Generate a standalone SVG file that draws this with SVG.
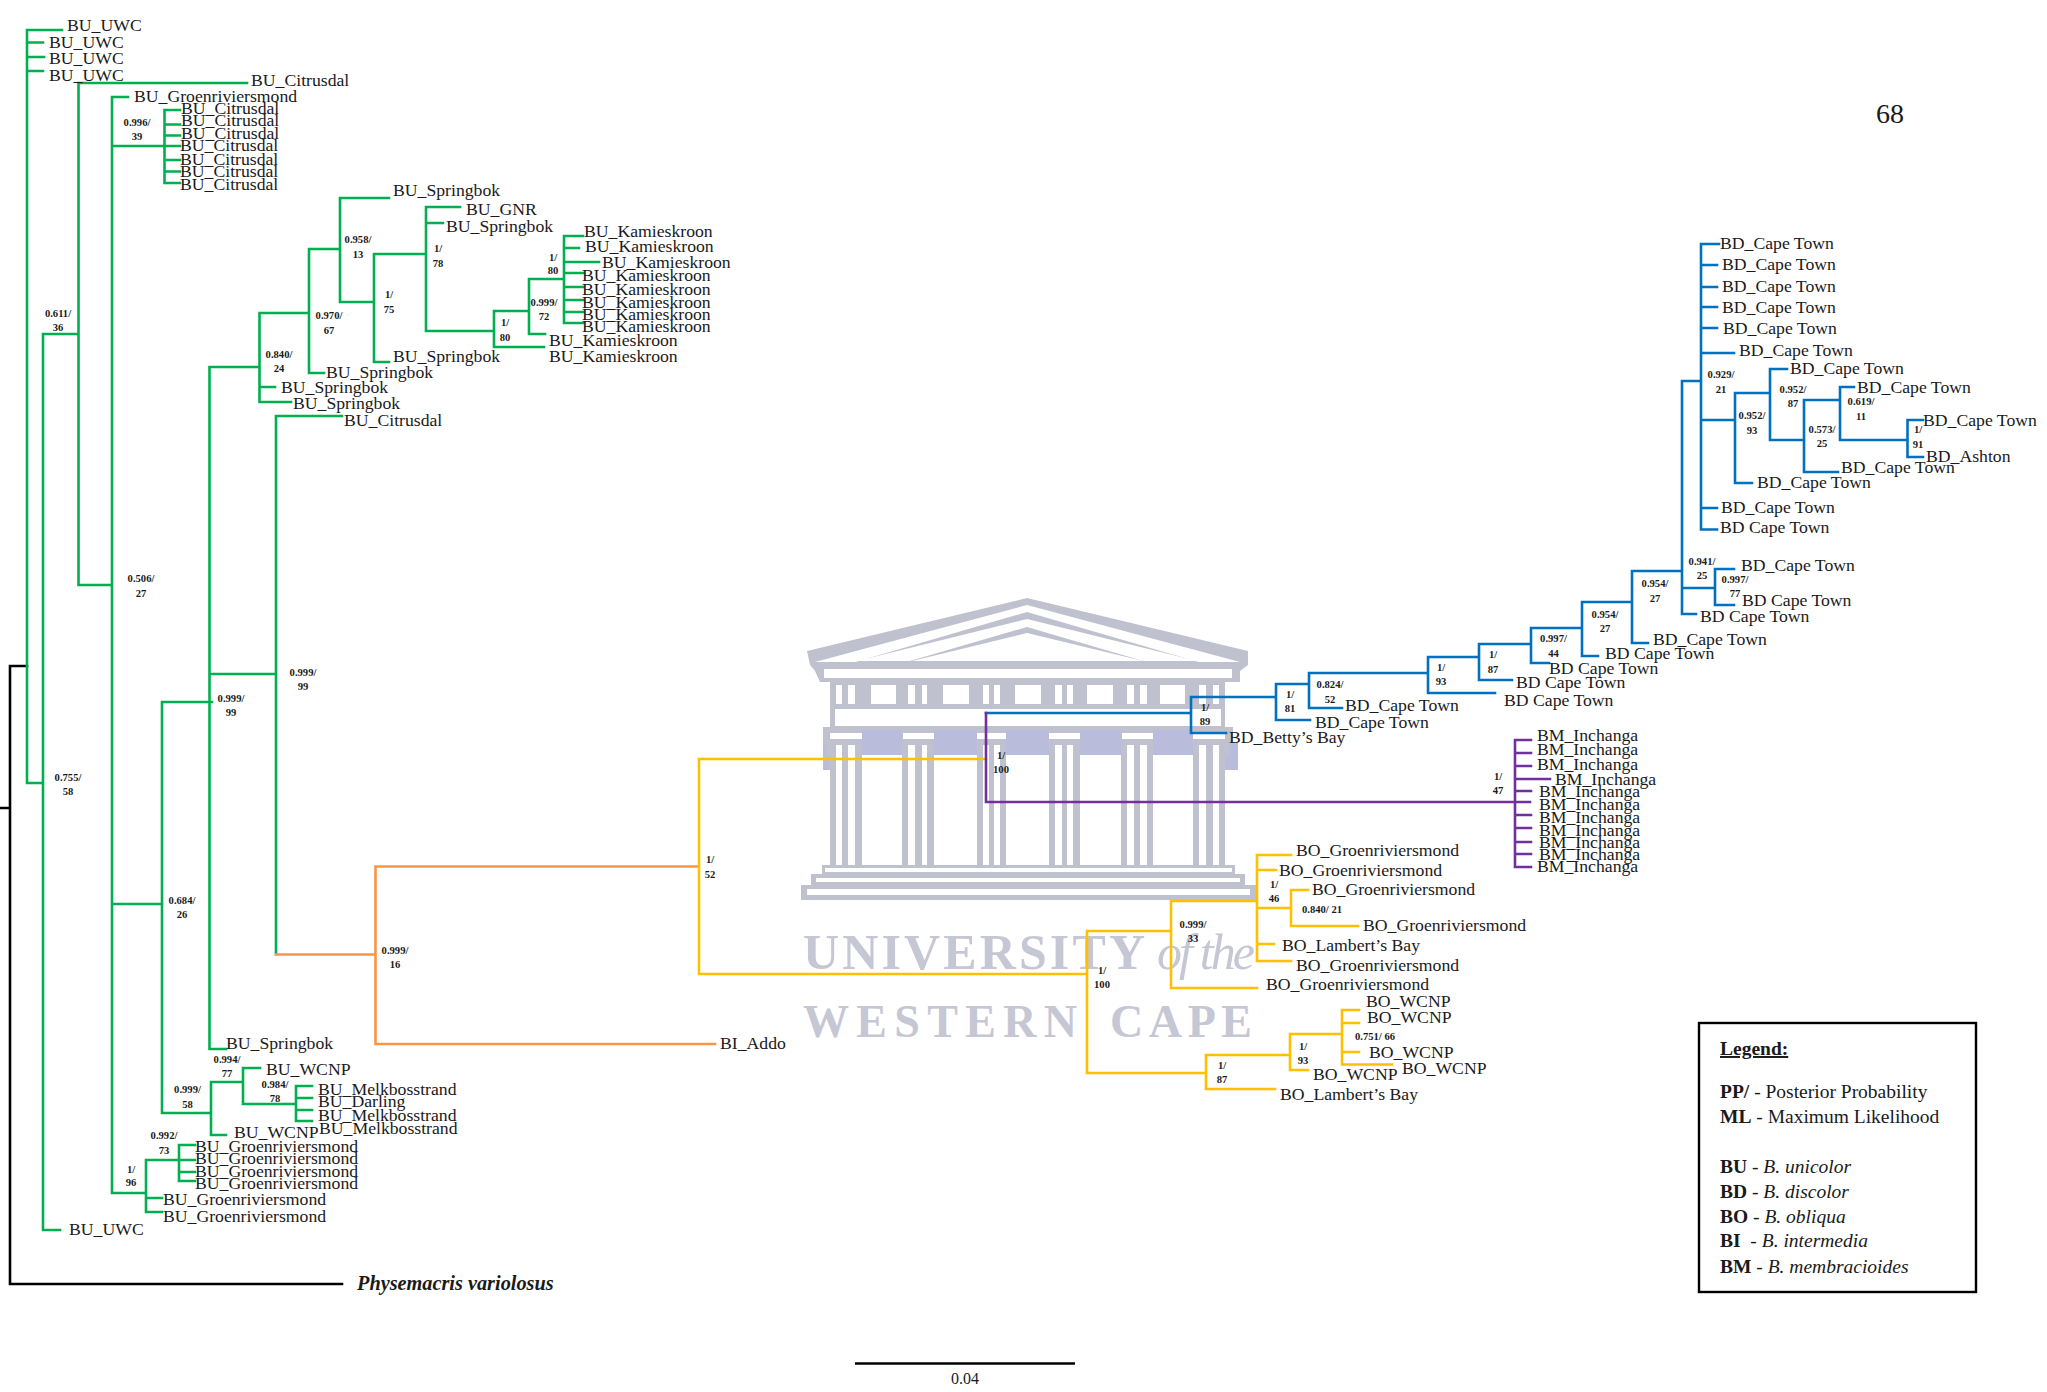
<svg xmlns="http://www.w3.org/2000/svg" width="2047" height="1392" viewBox="0 0 2047 1392">
<style>
text{font-family:"Liberation Serif","Times New Roman",serif;fill:#1a1a1a}
.l{font-size:17.7px}
.s{font-size:10.6px;font-weight:700;text-anchor:middle}
.g{font-size:19.5px}
.c{fill:none;stroke-width:2.6;stroke-linecap:square;stroke-linejoin:miter}
.wg{fill:#c0c1cf}.ww{fill:#fff}.wl{fill:#b9bddb}
.wt{fill:#c6c7d4;font-weight:700}
</style>
<rect width="2047" height="1392" fill="#fff"/>
<g id="watermark">
<rect x="823" y="742" width="415" height="28" class="wl"/>
<g class="wg">
<polygon points="807,651 1027,598 1248,651 1248,665 1240,671 1240,682 820,682 815,671 810,665"/>
<rect x="830" y="682" width="395" height="45"/>
<rect x="823" y="727" width="410" height="17"/>
<rect x="826" y="744" width="404" height="12"/>
<rect x="830" y="743" width="32" height="122"/><rect x="902" y="743" width="32" height="122"/><rect x="977" y="743" width="29" height="122"/><rect x="1049" y="743" width="31" height="122"/><rect x="1121" y="743" width="32" height="122"/><rect x="1193" y="743" width="32" height="122"/>
<rect x="822" y="865" width="413" height="9"/><rect x="811" y="874" width="434" height="11"/><rect x="801" y="885" width="456" height="15"/>
</g>
<rect x="862" y="755" width="40" height="110" class="ww"/><rect x="934" y="755" width="43" height="110" class="ww"/><rect x="1006" y="755" width="43" height="110" class="ww"/><rect x="1080" y="755" width="41" height="110" class="ww"/><rect x="1153" y="755" width="40" height="110" class="ww"/>
<rect x="862" y="730" width="40" height="25" class="wl"/><rect x="934" y="730" width="43" height="25" class="wl"/><rect x="1006" y="730" width="43" height="25" class="wl"/><rect x="1080" y="730" width="41" height="25" class="wl"/><rect x="1153" y="730" width="40" height="25" class="wl"/>
<polygon class="ww" points="815,662 1027,605 1240,662"/>
<polygon class="wg" points="852,663 1027,612 1202,663"/>
<polygon class="ww" points="857,661 1027,619 1197,661"/>
<polygon class="wg" points="903,663 1027,627 1150,663"/>
<polygon class="ww" points="912,661 1027,633 1143,661"/>
<g class="ww">
<rect x="824" y="669" width="408" height="9"/>
<rect x="835" y="709" width="386" height="17"/>
<rect x="871" y="685" width="25" height="19"/><rect x="943" y="685" width="26" height="19"/><rect x="1015" y="685" width="26" height="19"/><rect x="1087" y="685" width="26" height="19"/><rect x="1160" y="685" width="25" height="19"/>
<rect x="836" y="685" width="6" height="19"/><rect x="848" y="685" width="7" height="19"/><rect x="908" y="685" width="7" height="19"/><rect x="922" y="685" width="5" height="19"/><rect x="983" y="685" width="6" height="19"/><rect x="994" y="685" width="6" height="19"/><rect x="1055" y="685" width="7" height="19"/><rect x="1067" y="685" width="6" height="19"/><rect x="1127" y="685" width="7" height="19"/><rect x="1140" y="685" width="7" height="19"/><rect x="1199" y="685" width="7" height="19"/><rect x="1213" y="685" width="6" height="19"/>
<rect x="830" y="733" width="32" height="6"/><rect x="903" y="733" width="31" height="6"/><rect x="977" y="733" width="29" height="6"/><rect x="1049" y="733" width="31" height="6"/><rect x="1122" y="733" width="31" height="6"/><rect x="1193" y="733" width="32" height="6"/>
<rect x="836" y="745" width="6" height="120"/><rect x="848" y="745" width="7" height="120"/><rect x="908" y="745" width="7" height="120"/><rect x="922" y="745" width="5" height="120"/><rect x="983" y="745" width="6" height="120"/><rect x="994" y="745" width="6" height="120"/><rect x="1055" y="745" width="7" height="120"/><rect x="1067" y="745" width="6" height="120"/><rect x="1127" y="745" width="7" height="120"/><rect x="1140" y="745" width="7" height="120"/><rect x="1199" y="745" width="7" height="120"/><rect x="1213" y="745" width="6" height="120"/>
<rect x="825" y="868" width="407" height="4"/><rect x="816" y="878" width="424" height="4"/><rect x="807" y="889" width="443" height="6"/>
</g>
<text class="wt" x="803" y="969" font-size="50" textLength="342" lengthAdjust="spacing">UNIVERSITY</text>
<text class="wt" x="1157" y="969" font-size="50" font-style="italic" style="font-weight:400" textLength="98" lengthAdjust="spacing">of the</text>
<text class="wt" x="803" y="1037" font-size="46" textLength="274" lengthAdjust="spacing">WESTERN</text>
<text class="wt" x="1110" y="1037" font-size="46" textLength="142" lengthAdjust="spacing">CAPE</text>
</g>
<g id="connectors">
<path class="c" stroke="#000" d="M10 666V1284M10 666H27M0 808H10M10 1284H342"/>
<path class="c" stroke="#00B050" d="M27 30V783M27 30H62M27 42.5H43M27 57H44M27 71H43M27 783H43
M43 334V1230M43 334H78M43 1230H60
M78.5 83V585M78.5 83H247M78.5 585H112
M112 97V1193M112 97H128M112 146H164M112 904H162M112 1193H146
M164.5 110V183M164.5 110H180M164.5 124.5H180M164.5 135.5H180M164.5 146H180M164.5 160H180M164.5 171.5H180M164.5 183H180
M162 702V1113M162 702H212M162 1113H211
M209.5 367V1049M209.5 1049H226M209.5 674H276M209.5 367H259.5
M259.5 313V402M259.5 387H275M259.5 402H291M259.5 313H309
M309 249V373M309 373H324M309 249H340
M340 198V302M340 198H389M340 302H374
M374 254V362M374 362H389M374 254H426
M426 207V331M426 207H460M426 223H443M426 331H494
M494 311V347M494 347H544M494 311H529
M529 279V334M529 334H545M529 279H564
M564 236V323M564 236H583M564 248H579M564 262H599M564 273H583M564 287H583M564 300H583M564 312H583M564 323H583
M276 416V954M276 416H342
M211 1082V1135M211 1135H226M211 1082H243M243 1068V1104M243 1068H260M243 1104H296
M296 1086V1121M296 1086H312M296 1098H312M296 1110H312M296 1121H312
M146 1160V1212M146 1198H162M146 1212H162M146 1160H179
M179 1145V1181M179 1145H195M179 1160H195M179 1172H195M179 1181H195"/>
<path class="c" stroke="#F79646" d="M276 954.5H375.5M375.5 866.5V1044M375.5 866.5H698M375.5 1044H715"/>
<path class="c" stroke="#FFC000" d="M699 759V974M699 759H985M699 974H1087M1087 931V1073M1087 931H1171M1171 901V988M1171 988H1257M1171 901H1257
M1257 855V961M1257 855H1291M1257 870H1276M1257 908H1291M1257 944H1274M1257 961H1291
M1291 890V926M1291 890H1308M1291 926H1358
M1087 1073H1206M1206 1055V1089M1206 1089H1275M1206 1055H1290M1290 1034V1070M1290 1070H1308M1290 1034H1342
M1342 1010V1064.5M1342 1010H1359M1342 1023H1359M1342 1052H1359M1342 1064.5H1392"/>
<path class="c" stroke="#0070C0" d="M986 713H1191M1191 697V733M1191 733H1226M1191 697H1276M1276 684V720M1276 720H1310M1276 684H1309
M1309 673V708M1309 708H1342M1309 673H1428M1428 657V693M1428 693H1495M1428 657H1479
M1479 644V680M1479 680H1512M1479 644H1531M1531 628V663M1531 663H1549M1531 628H1582
M1582 602V656M1582 656H1598M1582 602H1632M1632 571V643M1632 643H1648M1632 571H1682
M1682 381V614M1682 614H1696M1682 381H1700M1682 588H1715M1715 569V605M1715 569H1734M1715 605H1734
M1701 244V529.5M1701 244H1719M1701 265H1717M1701 287H1717M1701 307H1717M1701 328H1717M1701 353H1734M1701 508H1717M1701 529.5H1717
M1701 420H1735M1735 393V483M1735 483H1752M1735 393H1770M1770 369V440M1770 369H1787M1770 440H1804
M1804 400V472M1804 472H1838M1804 400H1840M1840 387V440M1840 387H1854M1840 440H1907.5M1907.5 420V457M1907.5 420H1923M1907.5 457H1923"/>
<path class="c" stroke="#7030A0" d="M986 713V802M986 802H1530M1515 740V867M1515 740H1531M1515 753H1531M1515 766H1531M1515 779H1550M1515 791H1531M1515 815H1531M1515 828H1531M1515 842H1531M1515 854H1531M1515 867H1531"/>
</g>
<g id="leaves-BU">
<g id="n1"><text class="l" x="67" y="31">BU_UWC</text></g>
<g id="n2"><text class="l" x="49" y="48">BU_UWC</text></g>
<g id="n3"><text class="l" x="49" y="63.5">BU_UWC</text></g>
<g id="n4"><text class="l" x="49" y="81">BU_UWC</text></g>
<g id="n5"><text class="l" x="251" y="86">BU_Citrusdal</text></g>
<g id="n6"><text class="l" x="134" y="102">BU_Groenriviersmond</text></g>
<g id="n7"><text class="l" x="181" y="113.5">BU_Citrusdal</text></g>
<g id="n8"><text class="l" x="181" y="126">BU_Citrusdal</text></g>
<g id="n9"><text class="l" x="181" y="139">BU_Citrusdal</text></g>
<g id="n10"><text class="l" x="180" y="151">BU_Citrusdal</text></g>
<g id="n11"><text class="l" x="180" y="165">BU_Citrusdal</text></g>
<g id="n12"><text class="l" x="180" y="177">BU_Citrusdal</text></g>
<g id="n13"><text class="l" x="180" y="190">BU_Citrusdal</text></g>
<g id="n14"><text class="l" x="393" y="196">BU_Springbok</text></g>
<g id="n15"><text class="l" x="466" y="215">BU_GNR</text></g>
<g id="n16"><text class="l" x="446" y="232">BU_Springbok</text></g>
<g id="n17"><text class="l" x="584" y="237">BU_Kamieskroon</text></g>
<g id="n18"><text class="l" x="585" y="252">BU_Kamieskroon</text></g>
<g id="n19"><text class="l" x="602" y="268">BU_Kamieskroon</text></g>
<g id="n20"><text class="l" x="582" y="281">BU_Kamieskroon</text></g>
<g id="n21"><text class="l" x="582" y="295">BU_Kamieskroon</text></g>
<g id="n22"><text class="l" x="582" y="308">BU_Kamieskroon</text></g>
<g id="n23"><text class="l" x="582" y="320">BU_Kamieskroon</text></g>
<g id="n24"><text class="l" x="582" y="332">BU_Kamieskroon</text></g>
<g id="n25"><text class="l" x="549" y="346">BU_Kamieskroon</text></g>
<g id="n26"><text class="l" x="549" y="362">BU_Kamieskroon</text></g>
<g id="n27"><text class="l" x="393" y="362">BU_Springbok</text></g>
<g id="n28"><text class="l" x="326" y="378">BU_Springbok</text></g>
<g id="n29"><text class="l" x="281" y="393">BU_Springbok</text></g>
<g id="n30"><text class="l" x="293" y="409">BU_Springbok</text></g>
<g id="n31"><text class="l" x="344" y="426">BU_Citrusdal</text></g>
<g id="n32"><text class="l" x="226" y="1049">BU_Springbok</text></g>
<g id="n33"><text class="l" x="266" y="1075">BU_WCNP</text></g>
<g id="n34"><text class="l" x="318" y="1095">BU_Melkbosstrand</text></g>
<g id="n35"><text class="l" x="318" y="1107">BU_Darling</text></g>
<g id="n36"><text class="l" x="318" y="1120.5">BU_Melkbosstrand</text></g>
<g id="n37"><text class="l" x="319" y="1134">BU_Melkbosstrand</text></g>
<g id="n38"><text class="l" x="234" y="1138">BU_WCNP</text></g>
<g id="n39"><text class="l" x="195" y="1152">BU_Groenriviersmond</text></g>
<g id="n40"><text class="l" x="195" y="1164">BU_Groenriviersmond</text></g>
<g id="n41"><text class="l" x="195" y="1177">BU_Groenriviersmond</text></g>
<g id="n42"><text class="l" x="195" y="1189">BU_Groenriviersmond</text></g>
<g id="n43"><text class="l" x="163" y="1205">BU_Groenriviersmond</text></g>
<g id="n44"><text class="l" x="163" y="1222">BU_Groenriviersmond</text></g>
<g id="n45"><text class="l" x="69" y="1235">BU_UWC</text></g>
<g id="n46"><text x="357" y="1290" font-size="20.3" font-weight="700" font-style="italic">Physemacris variolosus</text></g>
<g id="n47"><text class="l" x="720" y="1049">BI_Addo</text></g>
</g>
<g id="leaves-BD">
<g id="d1"><text class="l" x="1720" y="249">BD_Cape Town</text></g>
<g id="d2"><text class="l" x="1722" y="270">BD_Cape Town</text></g>
<g id="d3"><text class="l" x="1722" y="292">BD_Cape Town</text></g>
<g id="d4"><text class="l" x="1722" y="313">BD_Cape Town</text></g>
<g id="d5"><text class="l" x="1723" y="334">BD_Cape Town</text></g>
<g id="d6"><text class="l" x="1739" y="356">BD_Cape Town</text></g>
<g id="d7"><text class="l" x="1790" y="374">BD_Cape Town</text></g>
<g id="d8"><text class="l" x="1857" y="393">BD_Cape Town</text></g>
<g id="d9"><text class="l" x="1923" y="426">BD_Cape Town</text></g>
<g id="d10"><text class="l" x="1926" y="462">BD_Ashton</text></g>
<g id="d11"><text class="l" x="1841" y="473">BD_Cape Town</text></g>
<g id="d12"><text class="l" x="1757" y="488">BD_Cape Town</text></g>
<g id="d13"><text class="l" x="1721" y="513">BD_Cape Town</text></g>
<g id="d14"><text class="l" x="1720" y="533">BD Cape Town</text></g>
<g id="d15"><text class="l" x="1741" y="571">BD_Cape Town</text></g>
<g id="d16"><text class="l" x="1742" y="606">BD Cape Town</text></g>
<g id="d17"><text class="l" x="1700" y="622">BD Cape Town</text></g>
<g id="d18"><text class="l" x="1653" y="645">BD_Cape Town</text></g>
<g id="d19"><text class="l" x="1605" y="659">BD Cape Town</text></g>
<g id="d20"><text class="l" x="1549" y="674">BD Cape Town</text></g>
<g id="d21"><text class="l" x="1516" y="688">BD Cape Town</text></g>
<g id="d22"><text class="l" x="1504" y="706">BD Cape Town</text></g>
<g id="d23"><text class="l" x="1345" y="711">BD_Cape Town</text></g>
<g id="d24"><text class="l" x="1315" y="728">BD_Cape Town</text></g>
<g id="d25"><text class="l" x="1229" y="743">BD_Betty’s Bay</text></g>
</g>
<g id="leaves-BM">
<g id="m1"><text class="l" x="1537" y="741">BM_Inchanga</text></g>
<g id="m2"><text class="l" x="1537" y="755">BM_Inchanga</text></g>
<g id="m3"><text class="l" x="1537" y="770">BM_Inchanga</text></g>
<g id="m4"><text class="l" x="1555" y="785">BM_Inchanga</text></g>
<g id="m5"><text class="l" x="1539" y="797">BM_Inchanga</text></g>
<g id="m6"><text class="l" x="1539" y="810">BM_Inchanga</text></g>
<g id="m7"><text class="l" x="1539" y="823">BM_Inchanga</text></g>
<g id="m8"><text class="l" x="1539" y="836">BM_Inchanga</text></g>
<g id="m9"><text class="l" x="1539" y="848">BM_Inchanga</text></g>
<g id="m10"><text class="l" x="1539" y="860">BM_Inchanga</text></g>
<g id="m11"><text class="l" x="1537" y="872">BM_Inchanga</text></g>
</g>
<g id="leaves-BO">
<g id="o1"><text class="l" x="1296" y="856">BO_Groenriviersmond</text></g>
<g id="o2"><text class="l" x="1279" y="876">BO_Groenriviersmond</text></g>
<g id="o3"><text class="l" x="1312" y="895">BO_Groenriviersmond</text></g>
<g id="o4"><text class="l" x="1363" y="931">BO_Groenriviersmond</text></g>
<g id="o5"><text class="l" x="1282" y="951">BO_Lambert’s Bay</text></g>
<g id="o6"><text class="l" x="1296" y="971">BO_Groenriviersmond</text></g>
<g id="o7"><text class="l" x="1266" y="990">BO_Groenriviersmond</text></g>
<g id="o8"><text class="l" x="1366" y="1007">BO_WCNP</text></g>
<g id="o9"><text class="l" x="1367" y="1023">BO_WCNP</text></g>
<g id="o10"><text class="l" x="1369" y="1058">BO_WCNP</text></g>
<g id="o11"><text class="l" x="1402" y="1074">BO_WCNP</text></g>
<g id="o12"><text class="l" x="1313" y="1080">BO_WCNP</text></g>
<g id="o13"><text class="l" x="1280" y="1100">BO_Lambert’s Bay</text></g>
</g>
<g id="support-values">
<text class="s"><tspan x="137" y="126">0.996/</tspan><tspan x="137" y="140">39</tspan></text>
<text class="s"><tspan x="58" y="317">0.611/</tspan><tspan x="58" y="331">36</tspan></text>
<text class="s"><tspan x="141" y="582">0.506/</tspan><tspan x="141" y="597">27</tspan></text>
<text class="s"><tspan x="68" y="781">0.755/</tspan><tspan x="68" y="795">58</tspan></text>
<text class="s"><tspan x="303" y="676">0.999/</tspan><tspan x="303" y="690">99</tspan></text>
<text class="s"><tspan x="231" y="702">0.999/</tspan><tspan x="231" y="716">99</tspan></text>
<text class="s"><tspan x="182" y="904">0.684/</tspan><tspan x="182" y="918">26</tspan></text>
<text class="s"><tspan x="395" y="954">0.999/</tspan><tspan x="395" y="968">16</tspan></text>
<text class="s"><tspan x="358" y="243">0.958/</tspan><tspan x="358" y="258">13</tspan></text>
<text class="s"><tspan x="329" y="319">0.970/</tspan><tspan x="329" y="334">67</tspan></text>
<text class="s"><tspan x="279" y="358">0.840/</tspan><tspan x="279" y="372">24</tspan></text>
<text class="s"><tspan x="438" y="252">1/</tspan><tspan x="438" y="267">78</tspan></text>
<text class="s"><tspan x="389" y="298">1/</tspan><tspan x="389" y="313">75</tspan></text>
<text class="s"><tspan x="553" y="261">1/</tspan><tspan x="553" y="274">80</tspan></text>
<text class="s"><tspan x="544" y="306">0.999/</tspan><tspan x="544" y="320">72</tspan></text>
<text class="s"><tspan x="505" y="326">1/</tspan><tspan x="505" y="341">80</tspan></text>
<text class="s"><tspan x="227" y="1063">0.994/</tspan><tspan x="227" y="1077">77</tspan></text>
<text class="s"><tspan x="275" y="1088">0.984/</tspan><tspan x="275" y="1102">78</tspan></text>
<text class="s"><tspan x="187.5" y="1093">0.999/</tspan><tspan x="187.5" y="1108">58</tspan></text>
<text class="s"><tspan x="164" y="1139">0.992/</tspan><tspan x="164" y="1154">73</tspan></text>
<text class="s"><tspan x="131" y="1173">1/</tspan><tspan x="131" y="1186">96</tspan></text>
<text class="s"><tspan x="710" y="863">1/</tspan><tspan x="710" y="878">52</tspan></text>
<text class="s"><tspan x="1001" y="759">1/</tspan><tspan x="1001" y="773">100</tspan></text>
<text class="s"><tspan x="1102" y="974">1/</tspan><tspan x="1102" y="988">100</tspan></text>
<text class="s"><tspan x="1193" y="928">0.999/</tspan><tspan x="1193" y="942">33</tspan></text>
<text class="s"><tspan x="1274" y="888">1/</tspan><tspan x="1274" y="902">46</tspan></text>
<text class="s" x="1322" y="913">0.840/ 21</text>
<text class="s" x="1375" y="1040">0.751/ 66</text>
<text class="s"><tspan x="1303" y="1050">1/</tspan><tspan x="1303" y="1064">93</tspan></text>
<text class="s"><tspan x="1222" y="1069">1/</tspan><tspan x="1222" y="1083">87</tspan></text>
<text class="s"><tspan x="1205" y="711">1/</tspan><tspan x="1205" y="725">89</tspan></text>
<text class="s"><tspan x="1290" y="698">1/</tspan><tspan x="1290" y="712">81</tspan></text>
<text class="s"><tspan x="1330" y="688">0.824/</tspan><tspan x="1330" y="703">52</tspan></text>
<text class="s"><tspan x="1441" y="671">1/</tspan><tspan x="1441" y="685">93</tspan></text>
<text class="s"><tspan x="1493" y="658">1/</tspan><tspan x="1493" y="673">87</tspan></text>
<text class="s"><tspan x="1553.5" y="642">0.997/</tspan><tspan x="1553.5" y="657">44</tspan></text>
<text class="s"><tspan x="1605" y="618">0.954/</tspan><tspan x="1605" y="632">27</tspan></text>
<text class="s"><tspan x="1655" y="587">0.954/</tspan><tspan x="1655" y="602">27</tspan></text>
<text class="s"><tspan x="1702" y="565">0.941/</tspan><tspan x="1702" y="579">25</tspan></text>
<text class="s"><tspan x="1735" y="583">0.997/</tspan><tspan x="1735" y="597">77</tspan></text>
<text class="s"><tspan x="1721" y="378">0.929/</tspan><tspan x="1721" y="393">21</tspan></text>
<text class="s"><tspan x="1752" y="419">0.952/</tspan><tspan x="1752" y="434">93</tspan></text>
<text class="s"><tspan x="1793" y="393">0.952/</tspan><tspan x="1793" y="407">87</tspan></text>
<text class="s"><tspan x="1822" y="433">0.573/</tspan><tspan x="1822" y="447">25</tspan></text>
<text class="s"><tspan x="1861" y="405">0.619/</tspan><tspan x="1861" y="420">11</tspan></text>
<text class="s"><tspan x="1918" y="433">1/</tspan><tspan x="1918" y="448">91</tspan></text>
<text class="s"><tspan x="1498" y="780">1/</tspan><tspan x="1498" y="794">47</tspan></text>
</g>
<g id="page-number"><text x="1876" y="123" font-size="28">68</text></g>
<g id="legend">
<rect x="1699" y="1023" width="277" height="269" fill="#fff" stroke="#000" stroke-width="2.4"/>
<text class="g" x="1720" y="1055" font-weight="700" text-decoration="underline">Legend:</text>
<text class="g" x="1720" y="1098"><tspan font-weight="700">PP/</tspan> - Posterior Probability</text>
<text class="g" x="1720" y="1123"><tspan font-weight="700">ML</tspan> - Maximum Likelihood</text>
<text class="g" x="1720" y="1173"><tspan font-weight="700">BU</tspan> - <tspan font-style="italic">B. unicolor</tspan></text>
<text class="g" x="1720" y="1198"><tspan font-weight="700">BD</tspan> - <tspan font-style="italic">B. discolor</tspan></text>
<text class="g" x="1720" y="1223"><tspan font-weight="700">BO</tspan> - <tspan font-style="italic">B. obliqua</tspan></text>
<text class="g" x="1720" y="1247"><tspan font-weight="700">BI</tspan>&#160; - <tspan font-style="italic">B. intermedia</tspan></text>
<text class="g" x="1720" y="1273"><tspan font-weight="700">BM</tspan> - <tspan font-style="italic">B. membracioides</tspan></text>
</g>
<g id="scale-bar">
<path d="M855 1363.5H1075" stroke="#000" stroke-width="2.4" fill="none"/>
<text x="965" y="1384" font-size="16" text-anchor="middle">0.04</text>
</g>
</svg>
